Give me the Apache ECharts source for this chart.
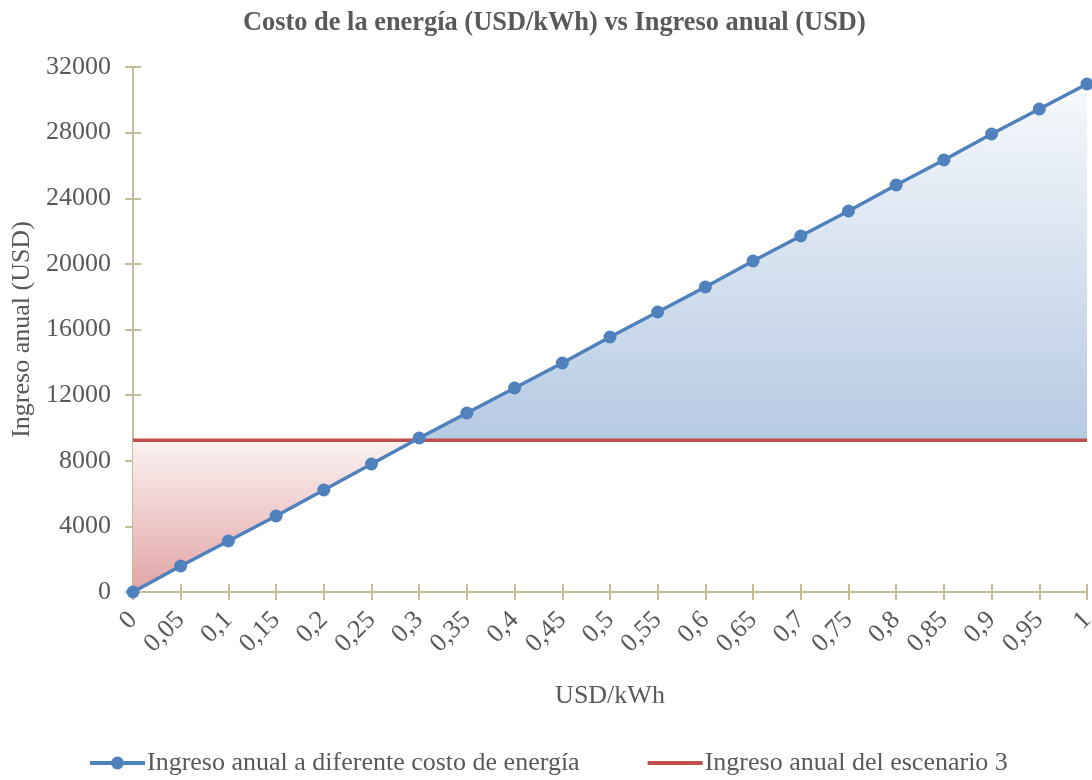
<!DOCTYPE html>
<html>
<head>
<meta charset="utf-8">
<script src="https://cdn.jsdelivr.net/npm/echarts@6/dist/echarts.min.js"></script>
<style>
  html, body { margin: 0; padding: 0; background: #fff; }
  #chart { width: 1092px; height: 780px; }
</style>
</head>
<body>
<div id="chart"></div>
<script>
// Energy cost (USD/kWh) on the x axis
const costLabels = ['0', '0,05', '0,1', '0,15', '0,2', '0,25', '0,3', '0,35', '0,4', '0,45', '0,5',
  '0,55', '0,6', '0,65', '0,7', '0,75', '0,8', '0,85', '0,9', '0,95', '1'];
// Annual income at each energy cost (USD)
const annualIncome = [0, 1585, 3108, 4632, 6217, 7802, 9387, 10910, 12434, 13958, 15543,
  17067, 18590, 20175, 21699, 23223, 24808, 26331, 27916, 29440, 30963];
// Annual income of scenario 3 (USD)
const scenario3Income = 9250;
const yTicks = { min: 0, max: 32000, step: 4000 };

const seriesIncomeName = 'Ingreso anual a diferente costo de energía';
const seriesScenarioName = 'Ingreso anual del escenario 3';

const scenarioLine = costLabels.map(() => scenario3Income);

// Shaded band above the scenario line (income exceeds scenario 3)
const firstAbove = annualIncome.findIndex(v => v >= scenario3Income);
const aboveBase = costLabels.map((_, i) => i >= firstAbove ? scenario3Income : '-');
const aboveTop = annualIncome.map((v, i) => i >= firstAbove ? Math.max(0, v - scenario3Income) : '-');
// Shaded band below the scenario line (income falls short)
const belowBase = annualIncome.map((v, i) => i <= firstAbove ? v : '-');
const belowTop = annualIncome.map((v, i) => i <= firstAbove ? Math.max(0, scenario3Income - v) : '-');

const axisColor = '#c4bd97';
const textColor = '#595959';
const fontFamily = '"Liberation Serif", "Times New Roman", serif';
const fs = 26;

const chart = echarts.init(document.getElementById('chart'));

const hiddenLine = { opacity: 0 };

chart.setOption({
  animation: false,
  textStyle: { fontFamily },
  title: {
    text: 'Costo de la energía (USD/kWh) vs Ingreso anual (USD)',
    left: 238,
    top: 5,
    textStyle: { fontFamily, fontSize: 26.4, fontWeight: 'bold', color: textColor }
  },
  legend: {
    top: 745,
    left: 83,
    itemGap: 66,
    itemWidth: 55,
    itemHeight: 16,
    lineStyle: { width: 4 },
    data: [
      { name: seriesIncomeName },
      { name: seriesScenarioName, itemStyle: { opacity: 0 } }
    ],
    textStyle: { fontFamily, fontSize: fs, color: textColor, padding: [0, 0, 0, -3] }
  },
  grid: { left: 133, right: 5, top: 67, bottom: 188, outerBoundsMode: 'none', containLabel: false },
  xAxis: [
    {
      type: 'category',
      data: costLabels,
      boundaryGap: false,
      name: 'USD/kWh',
      nameLocation: 'middle',
      nameGap: 91,
      nameTextStyle: { fontFamily, fontSize: fs, color: textColor },
      axisLine: { lineStyle: { color: axisColor, width: 2 } },
      axisTick: { show: true, interval: 0, length: 8, inside: false, lineStyle: { color: axisColor, width: 2 } },
      axisLabel: { rotate: 45, interval: 0, hideOverlap: false, fontSize: fs, color: textColor, margin: 24, fontFamily },
      splitLine: { show: false }
    },
    {
      type: 'category',
      data: costLabels,
      boundaryGap: false,
      position: 'bottom',
      axisLine: { show: false },
      axisTick: { show: true, interval: 0, length: 8, inside: true, lineStyle: { color: axisColor, width: 2 } },
      axisLabel: { show: false },
      splitLine: { show: false }
    }
  ],
  yAxis: [
    {
      type: 'value',
      min: yTicks.min,
      max: yTicks.max,
      interval: yTicks.step,
      name: 'Ingreso anual (USD)',
      nameLocation: 'middle',
      nameGap: 94,
      nameTextStyle: { fontFamily, fontSize: fs, color: textColor },
      axisLine: { show: true, lineStyle: { color: axisColor, width: 2 } },
      axisTick: { show: true, length: 8, inside: false, lineStyle: { color: axisColor, width: 2 } },
      axisLabel: { fontSize: fs, color: textColor, margin: 22, fontFamily, formatter: v => String(v) },
      splitLine: { show: false }
    },
    {
      type: 'value',
      min: yTicks.min,
      max: yTicks.max,
      interval: yTicks.step,
      position: 'left',
      axisLine: { show: false },
      axisTick: { show: true, length: 8, inside: true, lineStyle: { color: axisColor, width: 2 } },
      axisLabel: { show: false },
      splitLine: { show: false }
    }
  ],
  series: [
    {
      name: 'aboveBase', type: 'line', stack: 'above', data: aboveBase,
      symbol: 'none', lineStyle: hiddenLine, silent: true, z: 1
    },
    {
      name: 'aboveBand', type: 'line', stack: 'above', data: aboveTop,
      symbol: 'none', lineStyle: hiddenLine, silent: true, z: 1,
      areaStyle: {
        opacity: 1,
        color: new echarts.graphic.LinearGradient(0, 0, 0, 1, [
          { offset: 0, color: '#f7f9fc' },
          { offset: 1, color: '#b6cae3' }
        ])
      }
    },
    {
      name: 'belowBase', type: 'line', stack: 'below', data: belowBase,
      symbol: 'none', lineStyle: hiddenLine, silent: true, z: 1
    },
    {
      name: 'belowBand', type: 'line', stack: 'below', data: belowTop,
      symbol: 'none', lineStyle: hiddenLine, silent: true, z: 1,
      areaStyle: {
        opacity: 1,
        color: new echarts.graphic.LinearGradient(0, 0, 0, 1, [
          { offset: 0, color: '#fbf3f3' },
          { offset: 1, color: '#e3a4a4' }
        ])
      }
    },
    {
      name: seriesScenarioName, type: 'line', data: scenarioLine,
      symbol: 'none', z: 3,
      lineStyle: { color: '#c0504d', width: 3.5 },
      itemStyle: { color: '#c0504d' }
    },
    {
      name: seriesIncomeName, type: 'line', data: annualIncome,
      symbol: 'circle', symbolSize: 13, z: 4,
      lineStyle: { color: '#4f81bd', width: 3.5 },
      itemStyle: { color: '#4f81bd' }
    }
  ]
});
</script>
</body>
</html>
